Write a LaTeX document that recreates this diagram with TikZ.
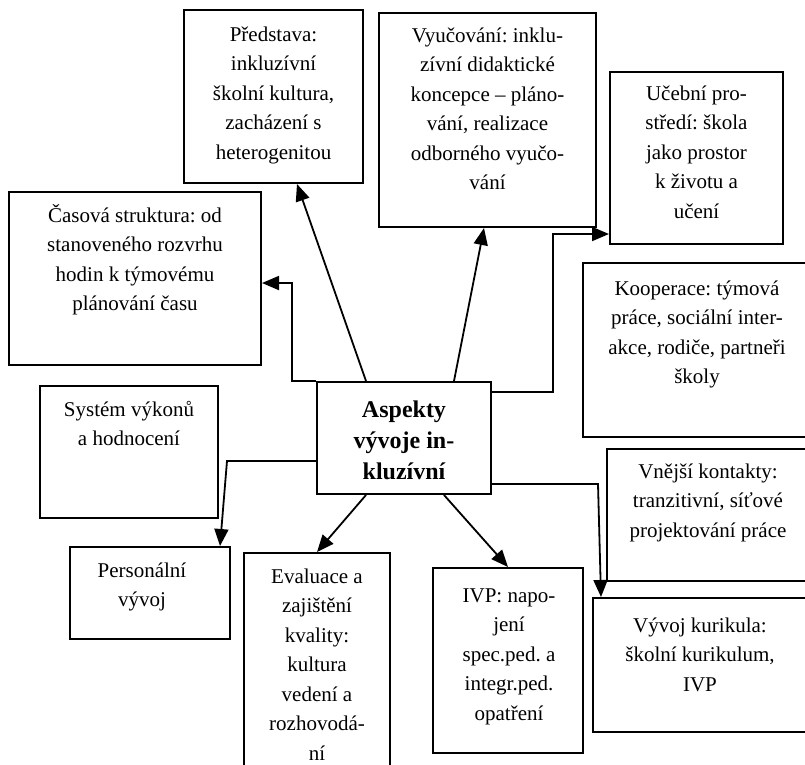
\documentclass[tikz,border=0pt]{standalone}
\usepackage{fontspec}
\setmainfont{Liberation Serif}
\usetikzlibrary{arrows.meta,calc}
\tikzset{
  box/.style={draw=black, line width=2pt, inner sep=0pt, fill=none},
  txt/.style={align=center, inner sep=0pt, anchor=north, font=\fontsize{21}{29.5}\selectfont},
  btxt/.style={align=center, inner sep=0pt, anchor=north, font=\fontsize{24}{31}\selectfont\bfseries},
  conn/.style={line width=1.8pt, -{Triangle[length=17pt,width=14pt]}},
}
\newcommand{\fst}{\rule{0pt}{20pt}}
\newcommand{\bst}{\rule{0pt}{22pt}}
\frenchspacing
\begin{document}
\begin{tikzpicture}[x=1pt,y=-1pt]
\useasboundingbox (0,0) rectangle (805,764);
\fill[white] (0,0) rectangle (805,764);
\clip (0,0) rectangle (805,764);
% boxes
\node[box, minimum width=179pt, minimum height=173pt] (P) at (273.5,96.5) {};
\node[box, minimum width=217pt, minimum height=214pt] (V) at (487.5,120) {};
\node[box, minimum width=173pt, minimum height=172pt] (U) at (696.5,158) {};
\node[box, minimum width=252pt, minimum height=173pt] (C) at (135,278.5) {};
\node[box, minimum width=228pt, minimum height=174pt] (K) at (697,350) {};
\node[box, minimum width=178pt, minimum height=132pt] (S) at (129,452) {};
\node[box, minimum width=174pt, minimum height=112pt] (A) at (404,438) {};
\node[box, minimum width=203pt, minimum height=132pt] (N) at (708.5,515) {};
\node[box, minimum width=160pt, minimum height=92pt] (Pe) at (150,593) {};
\node[box, minimum width=146pt, minimum height=222pt] (E) at (317,664) {};
\node[box, minimum width=150pt, minimum height=185pt] (I) at (508,660.5) {};
\node[box, minimum width=214pt, minimum height=134pt] (K2) at (700,665) {};
% texts
\node[txt] (tP) at (273.5,21) {\fst Představa:\\inkluzívní\\školní kultura,\\zacházení s\\heterogenitou};
\node[txt] (tV) at (487.5,22) {\fst Vyučování: inklu-\\zívní didaktické\\koncepce – pláno-\\vání, realizace\\odborného vyučo-\\vání};
\node[txt] (tU) at (696.5,80) {\fst Učební pro-\\středí: škola\\jako prostor\\k životu a\\učení};
\node[txt] (tC) at (135,202) {\fst Časová struktura: od\\stanoveného rozvrhu\\hodin k týmovému\\plánování času};
\node[txt] (tK) at (697,275) {\fst Kooperace: týmová\\práce, sociální inter-\\akce, rodiče, partneři\\školy};
\node[txt] (tS) at (129,396) {\fst Systém výkonů\\a hodnocení};
\node[btxt] (tA) at (404,395) {\bst Aspekty\\vývoje in-\\kluzívní};
\node[txt] (tN) at (708,458) {\fst Vnější kontakty:\\tranzitivní, síťové\\projektování práce};
\node[txt] (tPe) at (142,557) {\fst Personální\\vývoj};
\node[txt] (tE) at (317,563) {\fst Evaluace a\\zajištění\\kvality:\\kultura\\vedení a\\rozhovodá-\\ní};
\node[txt] (tI) at (509,582) {\fst IVP: napo-\\jení\\spec.ped. a\\integr.ped.\\opatření};
\node[txt] (tK2) at (700,612) {\fst Vývoj kurikula:\\školní kurikulum,\\IVP};
% connectors
\draw[conn] ($(A.north west)+(50,0)$) -- ($(P.south west)+(114,0)$);
\draw[conn] (A.north west) -- ++(-24,0) |- ($(C.east)+(0,4.5)$);
\draw[conn] ($(A.north west)+(138,0)$) -- ($(V.south west)+(106,0)$);
\draw[conn] ($(A.north east)+(0,11)$) -- ++(61,0) |- ($(U.south west)+(0,-11)$);
\draw[conn] ($(A.north west)+(0,80)$) -- ++(-89,0) -- ($(Pe.north east)+(-11,0)$);
\draw[conn] ($(A.south west)+(50,0)$) -- ($(E.north west)+(74,0)$);
\draw[conn] ($(A.south west)+(128,0)$) -- (I.north);
\draw[conn] ($(A.south east)+(0,-11)$) -- ++(106,0) -- ($(K2.north west)+(9,0)$);
\end{tikzpicture}
\end{document}
